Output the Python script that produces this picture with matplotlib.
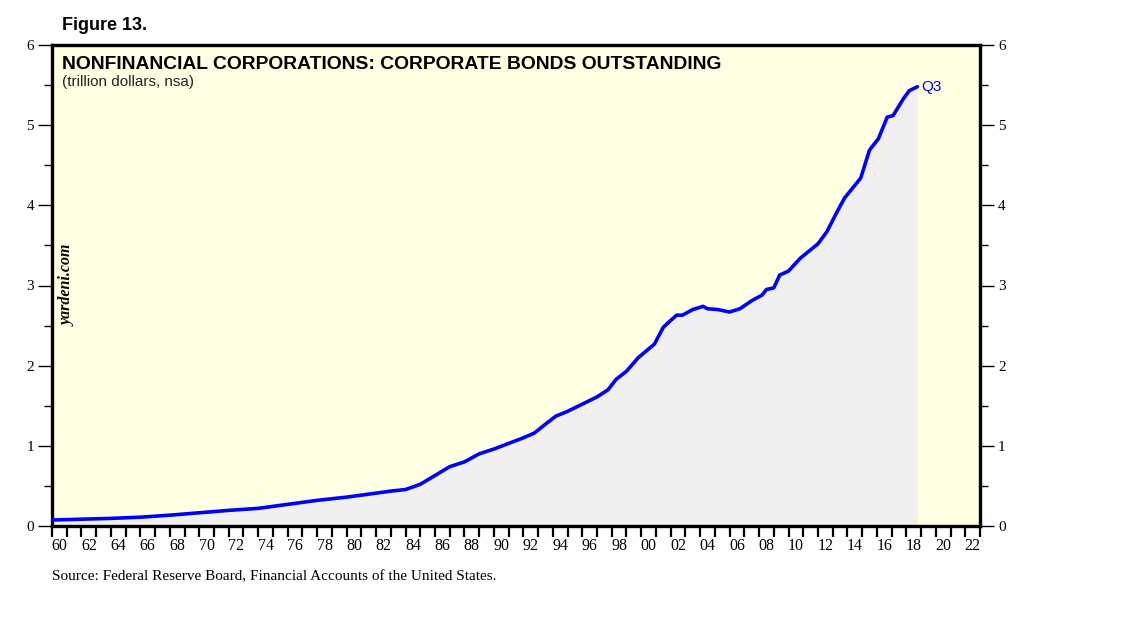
import matplotlib.pyplot as plt
from matplotlib.ticker import MultipleLocator, FixedLocator, NullFormatter

# Corporate bonds outstanding, nonfinancial corporations (trillion dollars)
years = [
    1960.0, 1962.0, 1964.0, 1966.0, 1968.0, 1970.0, 1972.0, 1974.0, 1976.0,
    1978.0, 1980.0, 1982.0, 1983.0, 1984.0, 1985.0, 1986.0, 1987.0, 1988.0,
    1989.0, 1990.0, 1991.0, 1992.0, 1992.75, 1993.5, 1994.2, 1995.0, 1996.0,
    1997.0, 1997.75, 1998.3, 1999.0, 1999.8, 2000.9, 2001.5, 2002.4, 2002.8,
    2003.5, 2004.2, 2004.5, 2005.2, 2006.0, 2006.7, 2007.5, 2008.2, 2008.5,
    2009.0, 2009.4, 2010.0, 2010.3, 2010.8, 2012.0, 2012.6, 2013.3, 2013.8,
    2014.9, 2015.5, 2016.1, 2016.7, 2017.1, 2017.8, 2018.2, 2018.75,
]
bonds = [
    0.075, 0.085, 0.095, 0.11, 0.135, 0.165, 0.195, 0.22, 0.27,
    0.32, 0.36, 0.41, 0.435, 0.455, 0.52, 0.63, 0.74, 0.80,
    0.90, 0.96, 1.03, 1.10, 1.16, 1.27, 1.37, 1.43, 1.52,
    1.61, 1.70, 1.83, 1.93, 2.10, 2.27, 2.48, 2.63, 2.63,
    2.70, 2.74, 2.71, 2.70, 2.67, 2.71, 2.81, 2.88, 2.95,
    2.97, 3.13, 3.18, 3.24, 3.34, 3.52, 3.67, 3.92, 4.09,
    4.34, 4.69, 4.83, 5.10, 5.12, 5.33, 5.43, 5.48,
]
label_years = list(range(1960, 2023, 2))
tick_labels = [f"{y % 100:02d}" for y in label_years]

BG = "#ffffe3"
FILL = "#f0f0f0"
BLUE = "#0000ff"

fig = plt.figure(figsize=(11.38, 6.21), dpi=100)
ax = fig.add_axes([52 / 1138, 1 - 526 / 621, 928 / 1138, 481 / 621])
ax.set_facecolor(BG)

ax.fill_between(years, bonds, 0, color=FILL, lw=0, zorder=1)
ax.plot(years, bonds, color=BLUE, lw=2.6, zorder=3, solid_capstyle="round")
ax.text(years[-1] + 0.25, bonds[-1], "Q3", color=BLUE, fontsize=11,
        family="Liberation Sans", va="center", ha="left")

ax.set_xlim(1960, 2023)
ax.set_ylim(0, 6)

for s in ax.spines.values():
    s.set_linewidth(2.4)

# x axis: year ticks, labels centred mid-year
ax.xaxis.set_major_locator(MultipleLocator(1))
ax.xaxis.set_major_formatter(NullFormatter())
ax.xaxis.set_minor_locator(FixedLocator([y + 0.5 for y in label_years]))
ax.set_xticklabels(tick_labels, minor=True)
ax.tick_params(axis="x", which="major", length=8, width=1.6, direction="out")
ax.tick_params(axis="x", which="minor", length=0, pad=8.5, labelsize=11.5)

# y axes on both sides
ax.yaxis.set_major_locator(MultipleLocator(1))
ax.yaxis.set_minor_locator(MultipleLocator(0.5))
ax.tick_params(axis="y", which="major", length=10, width=1, labelsize=11,
               left=True, right=True, labelleft=True, labelright=True, pad=3)
ax.tick_params(axis="y", which="minor", length=6, width=1,
               left=True, right=True)
for lbl in ax.get_xticklabels(minor=True) + ax.get_yticklabels():
    lbl.set_family("Liberation Serif")

ax.text(0.011, 0.977, "NONFINANCIAL CORPORATIONS: CORPORATE BONDS OUTSTANDING",
        transform=ax.transAxes, fontsize=13.9, fontweight="bold",
        family="Liberation Sans", va="top", ha="left")
ax.text(0.011, 0.937, "(trillion dollars, nsa)", transform=ax.transAxes,
        fontsize=11, family="Liberation Sans", va="top", ha="left",
        color="#222222")
ax.text(0.0165, 0.5, "yardeni.com", transform=ax.transAxes, rotation=90,
        fontsize=11.5, family="Liberation Serif", style="italic",
        fontweight="bold", va="center", ha="center")

fig.text(62 / 1138, 1 - 25 / 621, "Figure 13.", fontsize=13,
         fontweight="bold", family="Liberation Sans", va="center", ha="left")
fig.text(52 / 1138, 1 - 577 / 621,
         "Source: Federal Reserve Board, Financial Accounts of the United States.",
         fontsize=11, family="Liberation Serif", va="center", ha="left")

fig.savefig("out.png", dpi=100)
